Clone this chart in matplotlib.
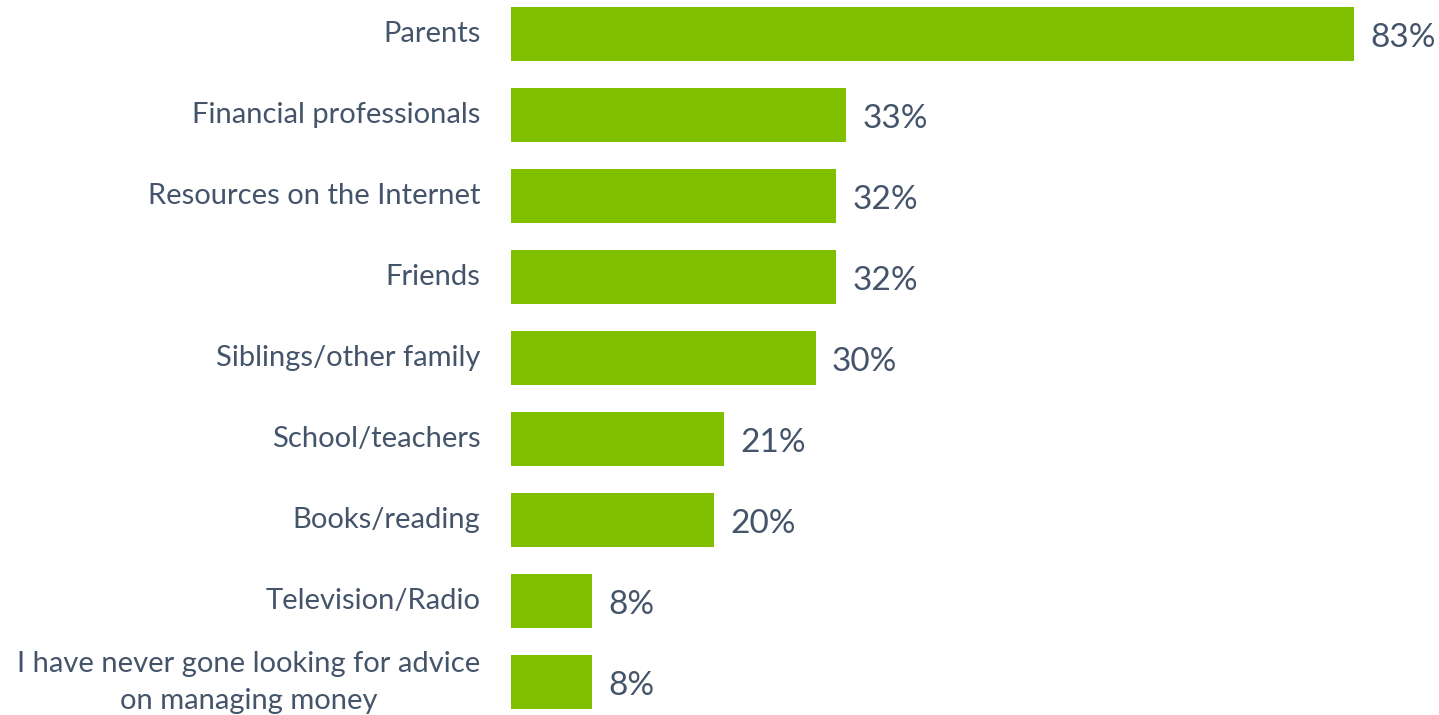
import matplotlib.pyplot as plt

# Where people go for advice on managing money
sources = ['Parents', 'Financial professionals', 'Resources on the Internet', 'Friends',
           'Siblings/other family', 'School/teachers', 'Books/reading', 'Television/Radio',
           'I have never gone looking for advice\non managing money']
share = [83, 33, 32, 32, 30, 21, 20, 8, 8]

green = '#7FBF00'
text_col = '#44546A'
plt.rcParams['font.family'] = ['Lato', 'DejaVu Sans']

fig = plt.figure(figsize=(14.39, 7.15), dpi=100)
ax = fig.add_axes([511 / 1439, 0, 928 / 1439, 1])

y = range(len(sources))
ax.barh(y, share, height=0.667, color=green)
ax.set_xlim(0, 91.4)
ax.set_ylim(8.407, -0.42)

for i, v in enumerate(share):
    ax.text(v + 1.6, i + 0.05, f'{v}%', va='center', ha='left', fontsize=24, color=text_col)

# category names to the left of each bar
for i, name in enumerate(sources):
    if '\n' in name:
        va, dy = 'center', -0.5
    else:
        va, dy = 'center_baseline', 1.5
    ax.annotate(name, xy=(0, i), xytext=(-22, dy), textcoords='offset points',
                ha='right', va=va, multialignment='center', linespacing=1.5,
                fontsize=21, color=text_col, annotation_clip=False)

ax.set_yticks([])
ax.set_xticks([])
for s in ax.spines.values():
    s.set_visible(False)

fig.savefig('out.png', dpi=100)
